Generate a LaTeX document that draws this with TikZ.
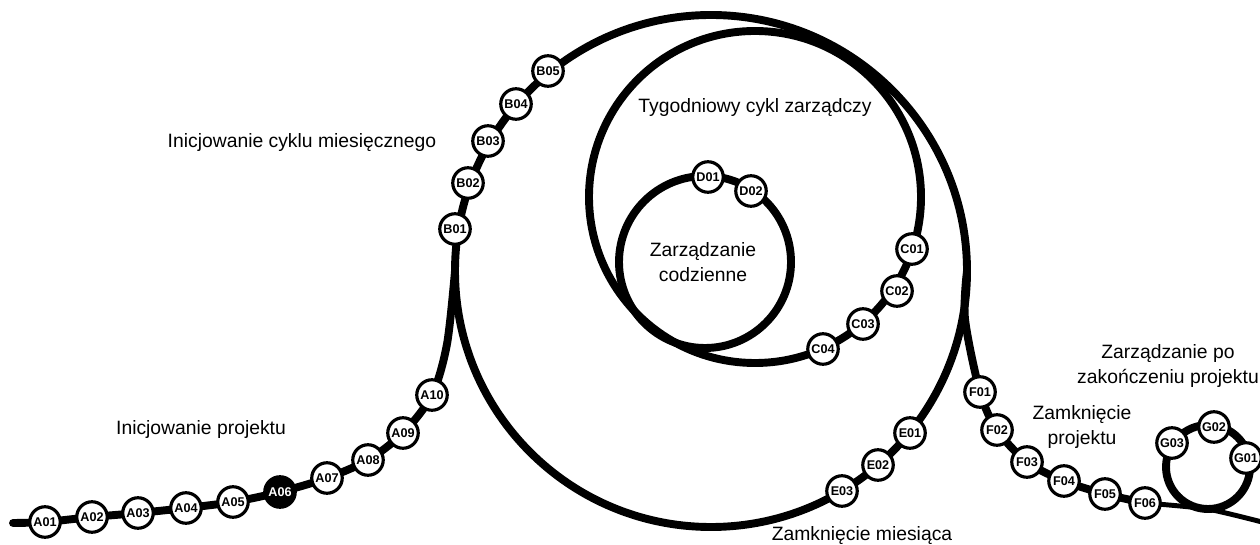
\documentclass[tikz,border=0pt]{standalone}
\usepackage{fontspec}
\setmainfont{Liberation Sans}
\usetikzlibrary{backgrounds}

\begin{document}
\begin{tikzpicture}[x=0.02cm, y=0.02cm,
    milestone/.style={circle, draw, line width=1.8pt, fill=white, minimum size=0.61cm, inner sep=0pt, font=\fontsize{7.2}{8}\selectfont\bfseries},
    current/.style={milestone, fill=black, text=white},
    track/.style={line width=4.5pt, line cap=round},
    stagelabel/.style={align=center, font=\fontsize{11}{14.5}\selectfont}]
    \useasboundingbox (0,0) rectangle (1260,544);

    % Loop centres
    \coordinate (monthO) at (711,273);
    \coordinate (weekO) at (755,347);
    \coordinate (dayO) at (705,282);
    \coordinate (postO) at (1208,77);
    \coordinate (lineStart) at (13,21);
    \coordinate (lineEnd) at (1262,22);

    % Project initiation
    \node[milestone] (A01) at (45,22) {A01};
    \node[milestone] (A02) at (92,27) {A02};
    \node[milestone] (A03) at (138,31) {A03};
    \node[milestone] (A04) at (186,36) {A04};
    \node[milestone] (A05) at (233,42) {A05};
    \node[current]   (A06) at (280,52) {A06};
    \node[milestone] (A07) at (327,66) {A07};
    \node[milestone] (A08) at (368,84) {A08};
    \node[milestone] (A09) at (403,111) {A09};
    \node[milestone] (A10) at (432,149) {A10};

    % Monthly cycle start
    \node[milestone] (B01) at (455,315) {B01};
    \node[milestone] (B02) at (468,361) {B02};
    \node[milestone] (B03) at (488,403) {B03};
    \node[milestone] (B04) at (516,440) {B04};
    \node[milestone] (B05) at (548,473) {B05};

    % Weekly cycle
    \node[milestone] (C01) at (912,295) {C01};
    \node[milestone] (C02) at (897,253) {C02};
    \node[milestone] (C03) at (863,220) {C03};
    \node[milestone] (C04) at (823,195) {C04};

    % Daily loop
    \node[milestone] (D01) at (708,367) {D01};
    \node[milestone] (D02) at (751,353) {D02};

    % Month closing
    \node[milestone] (E01) at (910,111) {E01};
    \node[milestone] (E02) at (878,79) {E02};
    \node[milestone] (E03) at (842,53) {E03};

    % Project closing
    \node[milestone] (F01) at (980,152) {F01};
    \node[milestone] (F02) at (997,114) {F02};
    \node[milestone] (F03) at (1027,82) {F03};
    \node[milestone] (F04) at (1064,63) {F04};
    \node[milestone] (F05) at (1105,50) {F05};
    \node[milestone] (F06) at (1145,41) {F06};

    % After the project
    \node[milestone] (G01) at (1246,86) {G01};
    \node[milestone] (G02) at (1214,117) {G02};
    \node[milestone] (G03) at (1172,101) {G03};

    % Labels
    \node[stagelabel] (initLabel) at (201,114) {Inicjowanie projektu};
    \node[stagelabel] (monthLabel) at (302,401) {Inicjowanie cyklu miesięcznego};
    \node[stagelabel] (weekLabel) at (755,436) {Tygodniowy cykl zarządczy};
    \node[stagelabel] (dayLabel) at (703,282) {Zarządzanie\\codzienne};
    \node[stagelabel, anchor=base] (closeLabel) at (862,4) {Zamknięcie miesiąca};
    \node[stagelabel] (endLabel) at (1082,117) {Zamknięcie\\projektu};
    \node[stagelabel] (postLabel) at (1168,178) {Zarządzanie po\\zakończeniu projektu};

    \begin{scope}[on background layer]
        % Main line into the monthly loop
        \draw[track] plot[smooth, tension=0.5] coordinates {(lineStart) (A01) (A02) (A03) (A04) (A05) (A06) (A07) (A08) (A09) (A10) (447,200) (455,273)};
        % The loops
        \draw[track] (monthO) circle (256);
        \draw[track] (weekO) circle (166);
        \draw[track] (dayO) circle (86);
        \draw[track] (postO) circle (42);
        % Way out of the loops
        \draw[track] plot[smooth, tension=0.5] coordinates {(967,273) (965,225) (F01) (F02) (F03) (F04) (F05) (F06)};
        \draw[line width=2.8pt] plot[smooth, tension=0.4] coordinates {(F06) (1207,35) (lineEnd)};
    \end{scope}
\end{tikzpicture}
\end{document}
